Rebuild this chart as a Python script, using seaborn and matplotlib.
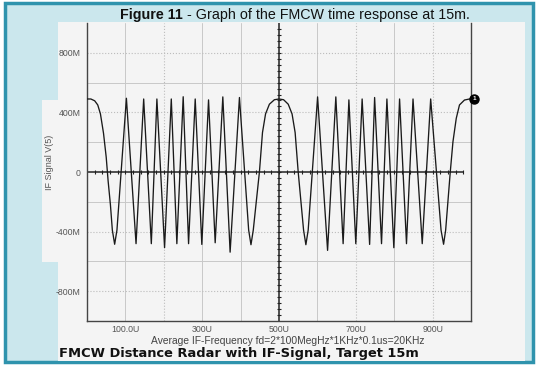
import numpy as np
import pandas as pd
import matplotlib
matplotlib.use("Agg")
import matplotlib.pyplot as plt
from matplotlib.patches import Rectangle
import seaborn as sns

# scope trace: time in U (us), signal in M (mV)
t_us = [0, 10, 20, 28, 35, 43, 50, 55, 61, 66, 72, 78, 102.6, 127.7, 147.6,
        167.5, 182, 202, 219.5, 234, 250.5, 264.5, 281.8, 299, 316.5, 333.8,
        353.7, 372.7, 397, 421, 427, 433, 449, 457, 465, 475, 488, 500, 512,
        524, 534, 542, 550, 564, 570, 576, 600.5, 626.5, 648, 667, 682, 700,
        716.5, 736, 749, 767, 781, 799, 814, 832, 849, 873, 895, 922, 928.6,
        934, 946, 953, 961.6, 970, 983, 996, 1000]
v_mv = [490, 490, 478, 450, 390, 260, 100, -60, -220, -390, -485, -390, 495,
        -481, 490, -481, 490, -508, 490, -481, 505, -481, 490, -486, 484, -475,
        504, -538, 500, -390, -488, -390, 0, 265, 390, 455, 485, 490, 485,
        455, 390, 265, 0, -390, -488, -390, 504, -526, 504, -481, 484, -481,
        490, -486, 500, -481, 490, -508, 490, -481, 490, -481, 490, -390, -485,
        -390, 0, 203, 360, 450, 483, 490, 490]

x_ticks = [100, 300, 500, 700, 900]
x_labels = ["100.0U", "300U", "500U", "700U", "900U"]
y_ticks = [800, 400, 0, -400, -800]
y_labels = ["800M", "400M", "0", "-400M", "-800M"]

df = pd.DataFrame({"t": t_us, "v": v_mv})

sns.set_style("white")
plt.rcParams["font.family"] = ["Liberation Sans", "DejaVu Sans"]

W, H = 540, 370
fig = plt.figure(figsize=(W / 100, H / 100), dpi=100, facecolor="white")


def box(x0, y0, x1, y1, **kw):
    fig.patches.append(Rectangle((x0 / W, 1 - y1 / H), (x1 - x0) / W, (y1 - y0) / H,
                                 transform=fig.transFigure, figure=fig, zorder=-5, **kw))


box(5, 3, 533, 362, facecolor="#cbe7ed", edgecolor="#2f93ad", lw=2.5)
box(58, 22, 525, 361, facecolor="#f4f4f4", edgecolor="none")
box(42, 100, 62, 262, facecolor="#f4f4f4", edgecolor="none")

ax = fig.add_axes([87 / W, 1 - 321 / H, (471 - 87) / W, (321 - 23) / H])
ax.set_facecolor("#f4f4f4")

# grid
for g in [100, 300, 400, 600, 800]:
    ax.axvline(g, color="#c8c8c8", lw=0.7, zorder=1)
for g in [200, 700, 900]:
    ax.axvline(g, color="#bcbcbc", lw=0.8, ls=":", zorder=1)
for g in [200, -200, 600, -600]:
    ax.axhline(g, color="#c8c8c8", lw=0.7, zorder=1)
for g in [400, -400, 800, -800]:
    ax.axhline(g, color="#bcbcbc", lw=0.8, ls=":", zorder=1)

# centre crosshair with small ticks
ax.axvline(500, color="#222222", lw=1.1, zorder=2)
ax.plot([0, 980], [0, 0], color="#222222", lw=1.1, zorder=2)
ht = np.arange(20, 981, 20)
ax.plot(ht, np.zeros_like(ht), ls="none", marker="|", ms=3, mew=0.8, color="#222222", zorder=2)
vt = np.arange(-960, 961, 40)
ax.plot(np.full_like(vt, 500), vt, ls="none", marker="_", ms=3, mew=0.8, color="#222222", zorder=2)

sns.lineplot(data=df, x="t", y="v", sort=False, estimator=None, color="#1a1a1a",
             lw=0.95, ax=ax, zorder=3)

ax.plot([1008], [490], marker="o", ms=6.5, color="black", clip_on=False, zorder=5)
ax.text(1008, 490, "1", color="white", fontsize=4.5, weight="bold", ha="center",
        va="center", clip_on=False, zorder=6)

ax.set_xlim(0, 1000)
ax.set_ylim(-1000, 1000)
ax.set_xticks(x_ticks)
ax.set_xticklabels(x_labels)
ax.set_yticks(y_ticks)
ax.set_yticklabels(y_labels)
ax.tick_params(length=0, labelsize=6.3, labelcolor="#555555")
ax.tick_params(axis="x", pad=3)
ax.tick_params(axis="y", pad=4.5)
ax.set_xlabel("")
ax.set_ylabel("")
ax.spines["top"].set_visible(False)
for s in ["left", "bottom", "right"]:
    ax.spines[s].set_color("#444444")
    ax.spines[s].set_linewidth(1.0)

fig.text(50 / W, 1 - 162 / H, "IF Signal V(5)", rotation=90, ha="center", va="center",
         fontsize=6.5, color="#555555")
fig.text(288 / W, 1 - 341 / H, "Average IF-Frequency fd=2*100MegHz*1KHz*0.1us=20KHz",
         ha="center", va="center", fontsize=7.4, color="#444444")
fig.text(59 / W, 1 - 354 / H, "FMCW Distance Radar with IF-Signal, Target 15m",
         ha="left", va="center", fontsize=9.4, weight="bold", family="DejaVu Sans",
         color="#111111")

t1 = fig.text(120 / W, 1 - 15 / H, "Figure 11", ha="left", va="center", fontsize=10.3,
              weight="bold", color="#111111")
renderer = fig.canvas.get_renderer()
bb = t1.get_window_extent(renderer)
fig.text(bb.x1 / W, 1 - 15 / H, " - Graph of the FMCW time response at 15m.", ha="left",
         va="center", fontsize=10.3, color="#111111")

fig.savefig("out.png", dpi=100)
